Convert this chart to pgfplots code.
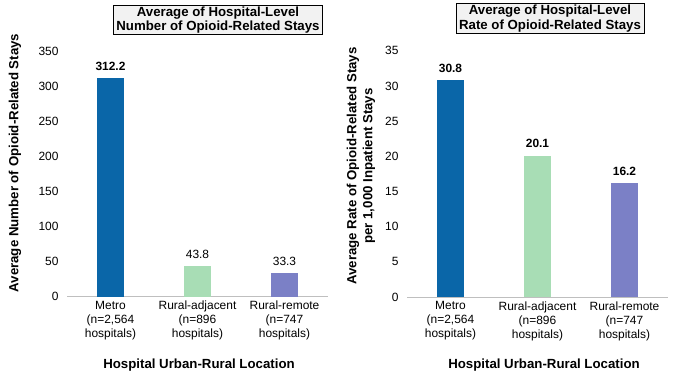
\documentclass[border=0pt]{standalone}
\usepackage{pgfplots}
\pgfplotsset{compat=1.18}
\usepackage{fontspec}
\setmainfont{Liberation Sans}
\definecolor{cblue}{HTML}{0A66A8}
\definecolor{cgreen}{HTML}{A8DDB5}
\definecolor{cpurple}{HTML}{7B80C6}
\definecolor{baseln}{HTML}{BFBFBF}
\definecolor{titlebg}{HTML}{F2F2F2}
\begin{document}
\begin{tikzpicture}
\path[use as bounding box] (0bp,0bp) rectangle (681bp,377bp);
\pgfplotsset{
  myaxis/.style={
    scale only axis, width=261bp,
    anchor=south west,
    xmin=-0.5, xmax=2.5, ymin=0,
    axis x line=bottom, axis y line=left,
    y axis line style={draw=none},
    x axis line style={draw=baseln, line width=0.8bp, -},
    major tick length=0pt,
    xtick={0,1,2},
    xticklabels={{Metro\\(n=2,564\\hospitals)},{Rural-adjacent\\(n=896\\hospitals)},{Rural-remote\\(n=747\\hospitals)}},
    xticklabel style={align=center, font=\fontsize{12}{14}\selectfont, yshift=-1bp},
    yticklabel style={font=\fontsize{12}{13}\selectfont, xshift=-5bp},
    /pgf/number format/assume math mode=true,
    clip=false,
  },
  mybar/.style={ybar, bar shift=0pt, bar width=27bp, draw=none, fill=#1,
    nodes near coords, nodes near coords style={font=\fontsize{12}{13}\selectfont, yshift=4bp},
    /pgf/number format/fixed, /pgf/number format/fixed zerofill, /pgf/number format/precision=1},
}
\begin{axis}[myaxis, at={(67bp,80.3bp)}, height=245bp, ymax=350, ytick={0,50,...,350}]
\addplot[mybar=cblue, nodes near coords style={font=\fontsize{12}{13}\selectfont\bfseries}] coordinates {(0,312.2)};
\addplot[mybar=cgreen] coordinates {(1,43.8)};
\addplot[mybar=cpurple] coordinates {(2,33.3)};
\end{axis}
\begin{axis}[myaxis, at={(407bp,80bp)}, height=246.3bp, ymax=35, ytick={0,5,...,35}]
\addplot[mybar=cblue, nodes near coords style={font=\fontsize{12}{13}\selectfont\bfseries}] coordinates {(0,30.8)};
\addplot[mybar=cgreen, nodes near coords style={font=\fontsize{12}{13}\selectfont\bfseries}] coordinates {(1,20.1)};
\addplot[mybar=cpurple, nodes near coords style={font=\fontsize{12}{13}\selectfont\bfseries}] coordinates {(2,16.2)};
\end{axis}
\node[font=\fontsize{13.3}{15}\selectfont\bfseries] at (199bp,12bp) {Hospital Urban-Rural Location};
\node[font=\fontsize{13.3}{15}\selectfont\bfseries] at (544bp,12bp) {Hospital Urban-Rural Location};
\node[font=\fontsize{13.3}{15}\selectfont\bfseries, rotate=90] at (15bp,214bp) {Average Number of Opioid-Related Stays};
\node[font=\fontsize{13.3}{16}\selectfont\bfseries, rotate=90, align=center] at (361bp,211bp) {Average Rate of Opioid-Related Stays\\per 1,000 Inpatient Stays};
\node[draw=black, fill=titlebg, line width=0.8bp, align=center, inner xsep=3bp, inner ysep=1.5bp, font=\fontsize{13.3}{14.5}\selectfont\bfseries] at (218bp,357bp) {Average of Hospital-Level\\Number of Opioid-Related Stays};
\node[draw=black, fill=titlebg, line width=0.8bp, align=center, inner xsep=3bp, inner ysep=1.5bp, font=\fontsize{13.3}{14.5}\selectfont\bfseries] at (550bp,358.5bp) {Average of Hospital-Level\\Rate of Opioid-Related Stays};
\end{tikzpicture}
\end{document}
